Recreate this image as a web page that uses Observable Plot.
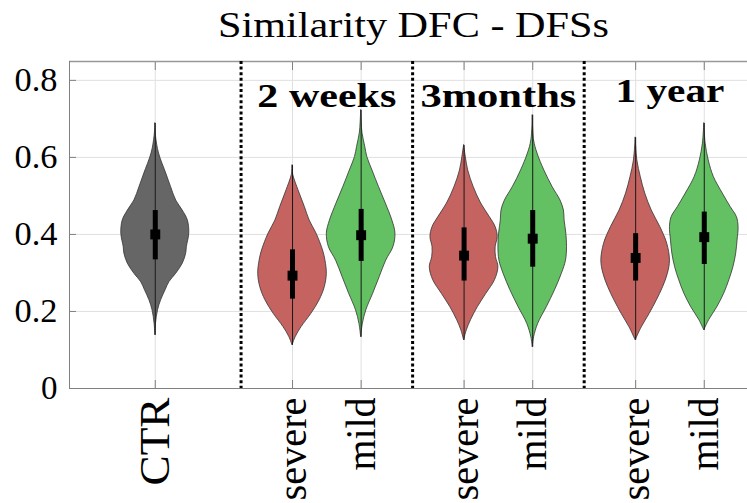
<!DOCTYPE html>
<html>
<head>
<meta charset="utf-8">
<script src="https://cdn.jsdelivr.net/npm/d3@7"></script>
<script src="https://cdn.jsdelivr.net/npm/@observablehq/plot@0.6"></script>
<style>
  html, body { margin: 0; padding: 0; background: #fff; }
  svg { display: block; }
  svg text { font-family: "Liberation Serif", "Times New Roman", serif; }
</style>
</head>
<body>
<div id="chart"></div>
<script>
// ---------- data ----------
const titleText = "Similarity DFC - DFSs";
const violinNames = ["CTR", "severe", "mild", "severe", "mild", "severe", "mild"];
const violinKind  = ["CTR", "severe", "mild", "severe", "mild", "severe", "mild"];
const violinPos   = [1, 3, 4, 5.5, 6.5, 8, 9];
const groupLabels = ["2 weeks", "3months", "1 year"];
const groupPos    = [3.5, 6, 8.5];
const groupLabelY = [0.731, 0.731, 0.744];
const dividerPos  = [2.25, 4.75, 7.25];
const yTicks      = [0, 0.2, 0.4, 0.6, 0.8];
const yTickLabels = ["0", "0.2", "0.4", "0.6", "0.8"];

// quartiles, medians, extremes (per violin)
const q1   = [0.334, 0.232, 0.330, 0.279, 0.315, 0.279, 0.322];
const med  = [0.400, 0.293, 0.398, 0.345, 0.389, 0.339, 0.393];
const q3   = [0.462, 0.360, 0.465, 0.417, 0.462, 0.402, 0.458];
const vMin = [0.138, 0.112, 0.133, 0.125, 0.107, 0.125, 0.151];
const vMax = [0.688, 0.579, 0.722, 0.631, 0.709, 0.651, 0.688];

// density profiles (value, relative density 0..1)
const ctrV  = [0.688, 0.655, 0.610, 0.558, 0.523, 0.488, 0.462, 0.436, 0.402, 0.367, 0.350, 0.324, 0.298, 0.276, 0.255, 0.229, 0.203, 0.168, 0.138];
const ctrD  = [0, 0.02, 0.11, 0.32, 0.46, 0.61, 0.80, 0.95, 0.99, 0.92, 0.90, 0.80, 0.61, 0.41, 0.30, 0.17, 0.08, 0.02, 0];
const sev2V = [0.579, 0.555, 0.540, 0.506, 0.471, 0.436, 0.402, 0.358, 0.332, 0.298, 0.263, 0.229, 0.194, 0.159, 0.133, 0.112];
const sev2D = [0, 0.02, 0.07, 0.21, 0.36, 0.50, 0.70, 0.89, 0.96, 1.0, 0.94, 0.79, 0.55, 0.26, 0.09, 0];
const mil2V = [0.722, 0.690, 0.662, 0.627, 0.601, 0.566, 0.523, 0.480, 0.436, 0.402, 0.367, 0.332, 0.289, 0.246, 0.203, 0.168, 0.133];
const mil2D = [0, 0.015, 0.04, 0.12, 0.18, 0.33, 0.52, 0.72, 0.91, 1.0, 0.94, 0.73, 0.54, 0.35, 0.15, 0.05, 0];
const sev3V = [0.631, 0.601, 0.566, 0.523, 0.480, 0.445, 0.419, 0.393, 0.367, 0.341, 0.315, 0.281, 0.246, 0.211, 0.177, 0.151, 0.125];
const sev3D = [0, 0.05, 0.12, 0.28, 0.50, 0.75, 0.92, 0.98, 0.92, 0.93, 1.0, 0.90, 0.65, 0.40, 0.20, 0.08, 0];
const mil3V = [0.709, 0.644, 0.610, 0.566, 0.523, 0.488, 0.462, 0.436, 0.402, 0.367, 0.332, 0.298, 0.255, 0.211, 0.168, 0.133, 0.107];
const mil3D = [0, 0.04, 0.14, 0.34, 0.58, 0.81, 0.91, 0.93, 0.98, 1.0, 0.97, 0.85, 0.65, 0.41, 0.16, 0.04, 0];
const sev1V = [0.651, 0.592, 0.549, 0.506, 0.462, 0.419, 0.376, 0.332, 0.298, 0.263, 0.229, 0.194, 0.159, 0.125];
const sev1D = [0, 0.05, 0.15, 0.28, 0.47, 0.72, 0.92, 1.0, 0.94, 0.80, 0.62, 0.41, 0.18, 0];
const mil1V = [0.688, 0.636, 0.592, 0.549, 0.506, 0.471, 0.445, 0.419, 0.384, 0.350, 0.315, 0.281, 0.246, 0.211, 0.177, 0.151];
const mil1D = [0, 0.04, 0.13, 0.28, 0.54, 0.77, 0.95, 1.0, 0.97, 0.93, 0.85, 0.73, 0.58, 0.38, 0.14, 0];

const profileV = [ctrV, sev2V, mil2V, sev3V, mil3V, sev1V, mil1V];
const profileD = [ctrD, sev2D, mil2D, sev3D, mil3D, sev1D, mil1D];

// ---------- tables built from the arrays ----------
const halfWidth = 0.5; // violin max half-width in x units
const rows = [];
profileV.forEach((vs, i) => vs.forEach((v, j) => rows.push({
  id: i, pos: violinPos[i], kind: violinKind[i], v, d: profileD[i][j]
})));
const stats = violinPos.map((p, i) => ({
  pos: p, kind: violinKind[i], q1: q1[i], med: med[i], q3: q3[i], min: vMin[i], max: vMax[i]
}));

const xDomain = [-0.25, 9.63];
const yDomain = [0, 0.849];
const axisGray = "#808080";
const serif = "Liberation Serif";

const chart = Plot.plot({
  width: 747,
  height: 503,
  marginLeft: 69,
  marginRight: 0,
  marginTop: 61,
  marginBottom: 115,
  style: { fontFamily: serif, background: "white", color: "black", overflow: "visible" },
  x: { domain: xDomain },
  y: { domain: yDomain },
  color: { domain: ["CTR", "severe", "mild"], range: ["#666666", "#c46360", "#63c063"] },
  marks: [
    Plot.gridY(yTicks, { stroke: "#e0e0e0", strokeOpacity: 1 }),
    Plot.gridX(violinPos, { stroke: "#e0e0e0", strokeOpacity: 1 }),
    Plot.ruleY([yDomain[1]], { stroke: "#999999", strokeWidth: 1.5 }),
    Plot.ruleY([0], { stroke: axisGray }),
    Plot.ruleX([xDomain[0]], { stroke: axisGray }),
    Plot.axisY(yTicks, {
      tickSize: -7, tickPadding: 19, stroke: axisGray, fill: "black",
      tickFormat: (d) => yTickLabels[yTicks.indexOf(d)],
      fontSize: 33, fontFamily: serif, label: null
    }),
    Plot.axisX(violinPos, {
      anchor: "bottom", tickSize: -8, tickPadding: 17, tickRotate: -90,
      tickFormat: (d) => violinNames[violinPos.indexOf(d)],
      stroke: axisGray, fill: "black", fontSize: 42, fontFamily: serif, label: null
    }),
    Plot.axisX(violinPos, {
      anchor: "top", tickSize: -8, tickFormat: () => "", stroke: axisGray, label: null
    }),
    Plot.ruleX(dividerPos, { stroke: "black", strokeWidth: 3, strokeDasharray: "3,2.6" }),
    Plot.areaX(rows, {
      y: "v",
      x1: (d) => d.pos - d.d * halfWidth,
      x2: (d) => d.pos + d.d * halfWidth,
      z: "id",
      fill: "kind",
      stroke: "#333333",
      strokeWidth: 0.8,
      curve: "catmull-rom"
    }),
    Plot.ruleX(stats, { x: "pos", y1: "min", y2: "max", stroke: "#1a1a1a", strokeWidth: 1 }),
    Plot.ruleX(stats, { x: "pos", y1: "q1", y2: "q3", stroke: "black", strokeWidth: 5 }),
    Plot.dot(stats, { x: "pos", y: "med", symbol: "square", r: 5.6, fill: "black", stroke: null }),
    Plot.text(groupLabels, {
      x: (d, i) => groupPos[i], y: (d, i) => groupLabelY[i], text: (d) => d,
      lineAnchor: "bottom", fontWeight: "bold", fontSize: 33, fontFamily: serif, fill: "black"
    }),
    Plot.text([titleText], {
      frameAnchor: "top", text: (d) => d, dy: -25, dx: 5,
      lineAnchor: "bottom", fontSize: 35, fontFamily: serif, fill: "black"
    })
  ]
});

// stretch texts to the reference's widths (reference is rendered in a wider serif)
const textLengths = new Map([
  [titleText, 391], ["2 weeks", 139], ["3months", 156], ["1 year", 109],
  ["CTR", 88], ["severe", 103], ["mild", 73],
  ["0.2", 43], ["0.4", 43], ["0.6", 43], ["0.8", 43]
]);
chart.querySelectorAll("text").forEach((t) => {
  const s = t.textContent;
  if (textLengths.has(s)) {
    t.setAttribute("textLength", textLengths.get(s));
    t.setAttribute("lengthAdjust", "spacingAndGlyphs");
  }
});

document.getElementById("chart").appendChild(chart);
</script>
</body>
</html>
